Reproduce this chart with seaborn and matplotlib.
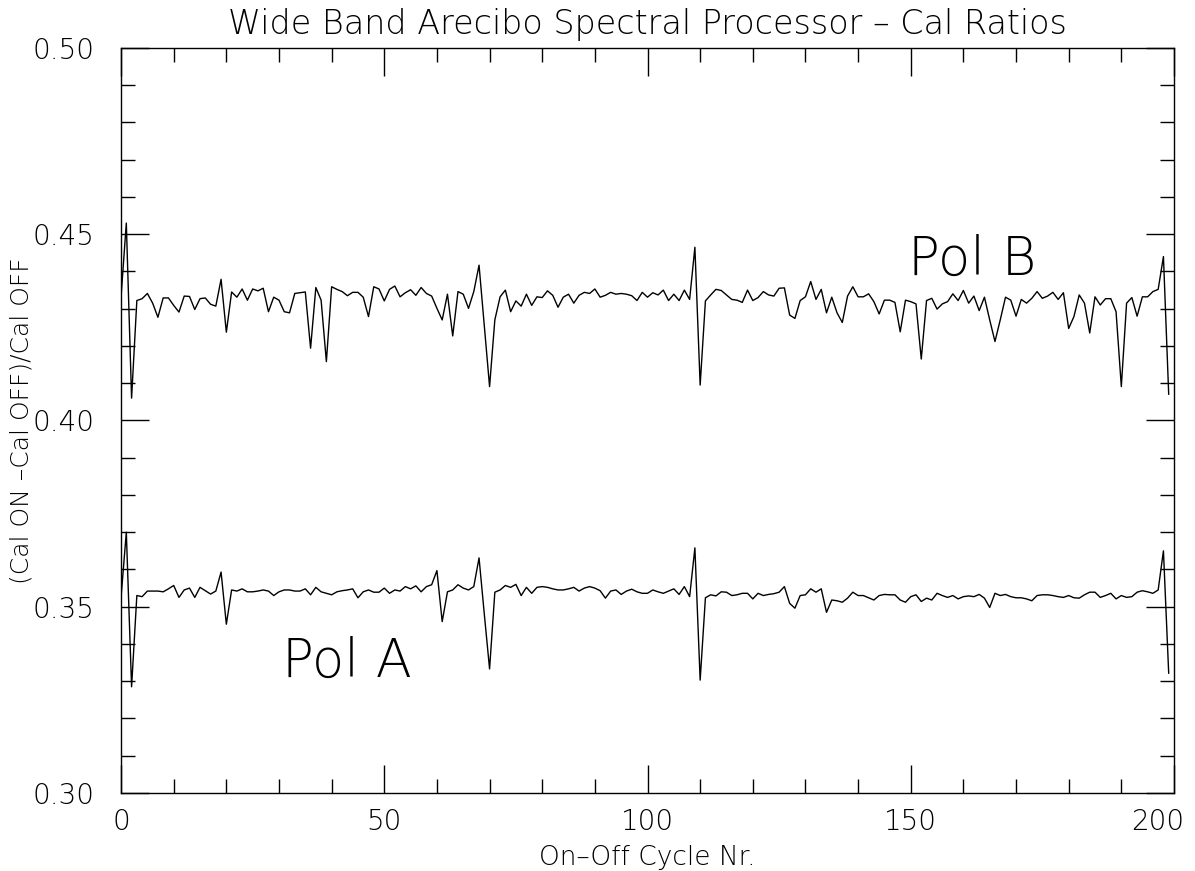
import numpy as np
import pandas as pd
import seaborn as sns
import matplotlib
matplotlib.use("Agg")
import matplotlib.pyplot as plt
from matplotlib.ticker import MultipleLocator, FormatStrFormatter, FixedFormatter

# cal ratio per on-off cycle
pol_b = [
    0.4332, 0.4530, 0.4060, 0.4322, 0.4327, 0.4341, 0.4315, 0.4277, 0.4329, 0.4329,
    0.4309, 0.4291, 0.4334, 0.4333, 0.4298, 0.4327, 0.4329, 0.4312, 0.4307, 0.4379,
    0.4237, 0.4345, 0.4331, 0.4353, 0.4323, 0.4353, 0.4348, 0.4355, 0.4292, 0.4331,
    0.4323, 0.4292, 0.4289, 0.4341, 0.4343, 0.4345, 0.4194, 0.4357, 0.4323, 0.4158,
    0.4359, 0.4352, 0.4346, 0.4335, 0.4344, 0.4344, 0.4331, 0.4279, 0.4359, 0.4353,
    0.4321, 0.4352, 0.4361, 0.4332, 0.4343, 0.4351, 0.4336, 0.4357, 0.4341, 0.4334,
    0.4301, 0.4270, 0.4339, 0.4227, 0.4346, 0.4339, 0.4301, 0.4346, 0.4417, 0.4254,
    0.4091, 0.4270, 0.4332, 0.4350, 0.4292, 0.4321, 0.4307, 0.4339, 0.4309, 0.4332,
    0.4330, 0.4348, 0.4336, 0.4304, 0.4331, 0.4339, 0.4315, 0.4336, 0.4344, 0.4341,
    0.4353, 0.4331, 0.4336, 0.4344, 0.4339, 0.4341, 0.4339, 0.4335, 0.4322, 0.4344,
    0.4331, 0.4343, 0.4337, 0.4350, 0.4322, 0.4339, 0.4322, 0.4350, 0.4325, 0.4465,
    0.4095, 0.4321, 0.4337, 0.4352, 0.4349, 0.4337, 0.4325, 0.4323, 0.4317, 0.4350,
    0.4322, 0.4330, 0.4346, 0.4337, 0.4334, 0.4355, 0.4356, 0.4283, 0.4274, 0.4322,
    0.4332, 0.4373, 0.4325, 0.4352, 0.4289, 0.4331, 0.4289, 0.4263, 0.4334, 0.4359,
    0.4332, 0.4332, 0.4340, 0.4319, 0.4286, 0.4323, 0.4323, 0.4317, 0.4238, 0.4323,
    0.4319, 0.4313, 0.4165, 0.4322, 0.4328, 0.4299, 0.4313, 0.4319, 0.4340, 0.4322,
    0.4349, 0.4315, 0.4334, 0.4295, 0.4331, 0.4270, 0.4212, 0.4270, 0.4331, 0.4323,
    0.4280, 0.4325, 0.4315, 0.4328, 0.4346, 0.4328, 0.4334, 0.4344, 0.4325, 0.4343,
    0.4247, 0.4279, 0.4337, 0.4315, 0.4235, 0.4332, 0.4310, 0.4327, 0.4327, 0.4292,
    0.4091, 0.4315, 0.4330, 0.4280, 0.4332, 0.4332, 0.4346, 0.4352, 0.4440, 0.4070,
]

pol_a = [
    0.3525, 0.3700, 0.3285, 0.3530, 0.3527, 0.3542, 0.3542, 0.3542, 0.3540, 0.3548,
    0.3557, 0.3525, 0.3545, 0.3550, 0.3525, 0.3552, 0.3543, 0.3534, 0.3542, 0.3593,
    0.3453, 0.3545, 0.3542, 0.3548, 0.3540, 0.3540, 0.3542, 0.3545, 0.3542, 0.3530,
    0.3540, 0.3545, 0.3545, 0.3542, 0.3542, 0.3548, 0.3532, 0.3552, 0.3540, 0.3536,
    0.3532, 0.3540, 0.3543, 0.3545, 0.3548, 0.3524, 0.3540, 0.3545, 0.3539, 0.3539,
    0.3550, 0.3536, 0.3545, 0.3542, 0.3554, 0.3548, 0.3556, 0.3540, 0.3554, 0.3559,
    0.3597, 0.3460, 0.3540, 0.3545, 0.3559, 0.3550, 0.3545, 0.3554, 0.3631, 0.3480,
    0.3333, 0.3539, 0.3545, 0.3557, 0.3552, 0.3560, 0.3530, 0.3552, 0.3536, 0.3552,
    0.3554, 0.3552, 0.3548, 0.3545, 0.3545, 0.3548, 0.3552, 0.3542, 0.3550, 0.3554,
    0.3550, 0.3543, 0.3523, 0.3542, 0.3545, 0.3533, 0.3542, 0.3547, 0.3540, 0.3536,
    0.3536, 0.3545, 0.3540, 0.3536, 0.3542, 0.3548, 0.3533, 0.3554, 0.3527, 0.3658,
    0.3303, 0.3524, 0.3532, 0.3529, 0.3540, 0.3539, 0.3530, 0.3532, 0.3536, 0.3536,
    0.3521, 0.3536, 0.3530, 0.3533, 0.3535, 0.3539, 0.3554, 0.3509, 0.3496, 0.3530,
    0.3532, 0.3548, 0.3539, 0.3548, 0.3485, 0.3518, 0.3516, 0.3512, 0.3523, 0.3539,
    0.3530, 0.3530, 0.3524, 0.3518, 0.3530, 0.3533, 0.3532, 0.3532, 0.3518, 0.3512,
    0.3527, 0.3532, 0.3514, 0.3523, 0.3518, 0.3536, 0.3530, 0.3525, 0.3530, 0.3521,
    0.3527, 0.3529, 0.3527, 0.3533, 0.3523, 0.3498, 0.3536, 0.3530, 0.3533, 0.3527,
    0.3524, 0.3524, 0.3521, 0.3516, 0.3530, 0.3532, 0.3532, 0.3530, 0.3527, 0.3525,
    0.3530, 0.3524, 0.3523, 0.3532, 0.3539, 0.3539, 0.3525, 0.3530, 0.3536, 0.3521,
    0.3530, 0.3525, 0.3527, 0.3539, 0.3543, 0.3540, 0.3536, 0.3545, 0.3650, 0.3321,
]

x_ticks = [0, 50, 100, 150, 200]
x_labels = ["0", "50", "100", "150", "200"]

cycle = np.arange(len(pol_a))
df = pd.DataFrame({"cycle": cycle, "Pol A": pol_a, "Pol B": pol_b})

sns.set_style("white")
plt.rcParams["font.family"] = ["DejaVu Sans"]
plt.rcParams["font.weight"] = "light"
plt.rcParams["axes.titleweight"] = "light"
plt.rcParams["axes.labelweight"] = "light"
plt.rcParams["text.color"] = "black"
plt.rcParams["axes.labelcolor"] = "black"
plt.rcParams["xtick.color"] = "black"
plt.rcParams["ytick.color"] = "black"

fig = plt.figure(figsize=(11.95, 8.71), dpi=100)
ax = fig.add_axes([0.1013, 0.0896, 0.8811, 0.8553])

sns.lineplot(data=df, x="cycle", y="Pol B", ax=ax, color="black", linewidth=1.0)
sns.lineplot(data=df, x="cycle", y="Pol A", ax=ax, color="black", linewidth=1.0)

ax.set_xlim(0, 200)
ax.set_ylim(0.30, 0.50)
ax.set_xticks(x_ticks)
# last x label is drawn separately so it stays inside the figure
ax.xaxis.set_major_formatter(FixedFormatter(x_labels[:-1] + [""]))
ax.xaxis.set_minor_locator(MultipleLocator(10))
ax.yaxis.set_major_locator(MultipleLocator(0.05))
ax.yaxis.set_minor_locator(MultipleLocator(0.01))
ax.yaxis.set_major_formatter(FormatStrFormatter("%.2f"))
ax.tick_params(which="both", direction="in", top=True, right=True,
               bottom=True, left=True, color="black", width=1.0,
               labelsize=20, labelcolor="black")
ax.tick_params(which="major", length=20)
ax.tick_params(which="minor", length=10)
ax.tick_params(axis="x", which="major", pad=11)
ax.tick_params(axis="y", which="major", pad=19)
for s in ax.spines.values():
    s.set_color("black")
    s.set_linewidth(1.0)

ax.annotate(x_labels[-1], xy=(x_ticks[-1], 0), xycoords=("data", "axes fraction"),
            xytext=(-12, -11), textcoords="offset points",
            ha="center", va="top", fontsize=20, color="black")

ax.text(30.5, 0.3311, "Pol A", fontsize=38, color="black")
ax.text(149.5, 0.4390, "Pol B", fontsize=38, color="black")

ax.set_title("Wide Band Arecibo Spectral Processor \u2013 Cal Ratios",
             fontsize=24, pad=10, color="black", fontweight="light")
ax.set_xlabel("On\u2013Off Cycle Nr.", fontsize=19, labelpad=6, fontweight="light")
ax.set_ylabel("(Cal ON \u2013Cal OFF)/Cal OFF", fontsize=18, fontweight="light")
ax.yaxis.set_label_coords(-0.083, 0.5)

fig.savefig("out.png", dpi=100)
